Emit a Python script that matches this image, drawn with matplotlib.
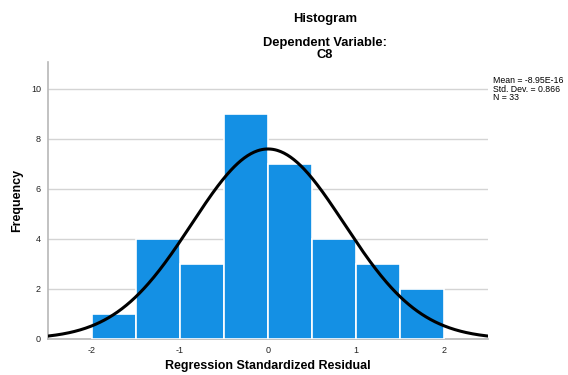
import numpy as np
import matplotlib
matplotlib.use("Agg")
import matplotlib.pyplot as plt

plt.rcParams['font.family'] = ['Liberation Sans', 'DejaVu Sans']

bin_edges = [-2.0, -1.5, -1.0, -0.5, 0.0, 0.5, 1.0, 1.5, 2.0]
counts = [1, 4, 3, 9, 7, 4, 3, 2]
mean = -8.95e-16
std = 0.866
n = 33
x_ticks = [-2, -1, 0, 1, 2]
y_ticks = [0, 2, 4, 6, 8, 10]

fig = plt.figure(figsize=(5.68, 3.75), dpi=100)
ax = fig.add_axes([48/568, 36/375, 440/568, 277/375])

lefts = bin_edges[:-1]
widths = np.diff(bin_edges)
ax.bar(lefts, counts, width=widths, align='edge', color='#1490E4',
       edgecolor='white', linewidth=1.2, zorder=3)

xs = np.linspace(-2.5, 2.5, 400)
bw = widths[0]
pdf = n * bw * np.exp(-0.5 * ((xs - mean) / std) ** 2) / (std * np.sqrt(2 * np.pi))
ax.plot(xs, pdf, color='black', linewidth=2.2, zorder=4)

ax.set_xlim(-2.5, 2.5)
ax.set_ylim(0, 11.08)
ax.set_xticks(x_ticks)
ax.set_xticklabels(['-2', '-1', '0', '1', '2'])
ax.set_yticks(y_ticks)
ax.tick_params(axis='both', labelsize=6.5, length=0, pad=5, colors='#222222')
ax.yaxis.grid(True, color='#d4d4d4', linewidth=1.0, zorder=0)
ax.set_axisbelow(True)
for s in ['top', 'right']:
    ax.spines[s].set_visible(False)
ax.spines['left'].set_color('#b8b8b8')
ax.spines['bottom'].set_color('#b8b8b8')
ax.spines['left'].set_linewidth(1.2)
ax.spines['bottom'].set_linewidth(1.2)

ax.set_xlabel('Regression Standardized Residual', fontsize=9, fontweight='bold', va='center')
ax.xaxis.set_label_coords(0.5, (339 - 366) / 277)
ax.set_ylabel('Frequency', fontsize=9, fontweight='bold', va='center')
ax.yaxis.set_label_coords((17 - 48) / 440, 0.5)

fig.text(325/568, 1 - 19/375, 'Histogram', ha='center', va='center', fontsize=9.4, fontweight='bold')
fig.text(325/568, 1 - 43/375, 'Dependent Variable:', ha='center', va='center',
         fontsize=9.3, fontweight='bold')
fig.text(325/568, 1 - 55/375, 'C8', ha='center', va='center',
         fontsize=9.3, fontweight='bold')

fig.text(493/568, 1 - 89/375, 'Mean = -8.95E-16\nStd. Dev. = 0.866\nN = 33',
         ha='left', va='center', fontsize=6.3, linespacing=0.95)

fig.savefig('out.png', dpi=100)
